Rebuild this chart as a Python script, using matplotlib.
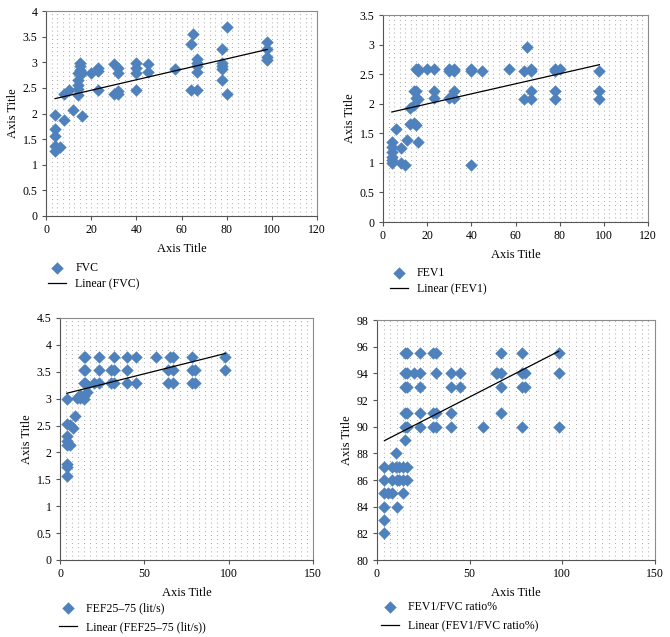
import numpy as np
import matplotlib
matplotlib.use("Agg")
import matplotlib.pyplot as plt
from matplotlib.ticker import MultipleLocator, FormatStrFormatter

plt.rcParams['font.family'] = ['Liberation Serif', 'DejaVu Serif']

# FVC
fvc_x = [4, 4, 4, 4, 4, 6, 8, 8, 10, 12, 14, 14, 14, 14, 14, 15, 15, 15, 16, 16, 20,
         23, 23, 23, 30, 30, 32, 32, 32, 32, 40, 40, 40, 40, 45, 45, 57, 64, 64, 65,
         67, 67, 67, 67, 67, 78, 78, 78, 78, 78, 80, 80, 98, 98, 98, 98]
fvc_y = [1.97, 1.69, 1.56, 1.36, 1.26, 1.34, 1.88, 2.38, 2.45, 2.06, 2.79, 2.66, 2.56,
         2.47, 2.37, 2.99, 2.92, 2.85, 2.79, 1.96, 2.79, 2.89, 2.82, 2.45, 2.97, 2.38,
         2.89, 2.79, 2.44, 2.38, 2.98, 2.89, 2.79, 2.45, 2.97, 2.81, 2.87, 3.36, 2.45,
         3.55, 3.06, 2.99, 2.92, 2.81, 2.45, 3.26, 2.99, 2.92, 2.86, 2.66, 3.68, 2.38,
         3.39, 3.26, 3.10, 3.04]
fvc_trend = [2.29, 3.25]  # linear trend at first / last x

# FEV1
fev1_x = [4, 4, 4, 4, 4, 4, 6, 8, 8, 10, 11, 12, 12, 14, 14, 14, 15, 15, 15, 15,
          16, 16, 16, 16, 20, 23, 23, 23, 30, 30, 30, 32, 32, 32, 32, 40, 40, 40, 45,
          57, 64, 64, 65, 67, 67, 67, 67, 78, 78, 78, 78, 80, 98, 98, 98]
fev1_y = [1.36, 1.27, 1.19, 1.10, 1.05, 1.00, 1.57, 1.25, 1.00, 0.97, 1.38, 1.66, 1.93,
          1.67, 2.21, 1.97, 1.64, 2.10, 2.21, 2.59, 1.36, 2.08, 2.55, 2.59, 2.59, 2.59,
          2.21, 2.10, 2.59, 2.55, 2.10, 2.59, 2.55, 2.21, 2.10, 2.59, 2.55, 0.97, 2.55,
          2.59, 2.55, 2.08, 2.96, 2.59, 2.55, 2.21, 2.08, 2.59, 2.55, 2.21, 2.08, 2.59,
          2.55, 2.21, 2.08]
fev1_trend = [1.86, 2.66]

# FEF25-75
fef_x = [4, 4, 4, 4, 4, 4, 4, 4, 6, 6, 8, 9, 10, 12, 12, 14, 14, 14, 14, 14, 15, 15, 15,
         16, 16, 20, 23, 23, 23, 30, 30, 32, 32, 32, 40, 40, 40, 45, 45, 57, 64, 64, 65,
         67, 67, 67, 78, 78, 78, 80, 80, 98, 98]
fef_y = [2.99, 2.53, 2.30, 2.21, 2.14, 1.78, 1.73, 1.56, 2.14, 2.51, 2.45, 2.67, 3.01,
         3.01, 3.07, 2.99, 3.05, 3.29, 3.54, 3.77, 3.54, 3.29, 3.77, 3.26, 3.13, 3.30,
         3.77, 3.54, 3.30, 3.54, 3.30, 3.77, 3.54, 3.30, 3.77, 3.54, 3.30, 3.77, 3.30,
         3.77, 3.54, 3.30, 3.77, 3.77, 3.54, 3.30, 3.77, 3.54, 3.30, 3.54, 3.30, 3.77, 3.54]
fef_trend = [3.10, 3.84]

# FEV1/FVC ratio%
ratio_x = [4, 4, 4, 4, 4, 4, 6, 8, 8, 8, 10, 10, 11, 11, 12, 12, 14, 14, 14,
           15, 15, 15, 15, 15, 15, 16, 16, 16, 16, 16, 16, 16, 20, 23, 23, 23, 23, 23,
           30, 30, 30, 32, 32, 32, 32, 40, 40, 40, 40, 45, 45, 57, 64, 65,
           67, 67, 67, 67, 78, 78, 78, 78, 80, 80, 98, 98, 98]
ratio_y = [82, 83, 84, 85, 86, 87, 85, 85, 86, 87, 87, 88, 84, 86, 86, 87, 85, 86, 87,
           89, 90, 91, 93, 94, 95.5, 86, 87, 90, 91, 93, 94, 95.5, 94, 90, 91, 93, 94, 95.5,
           90, 91, 95.5, 90, 91, 94, 95.5, 90, 91, 93, 94, 93, 94, 90, 94, 94,
           94, 93, 91, 95.5, 90, 93, 94, 95.5, 93, 94, 90, 94, 95.5]
ratio_trend = [88.95, 95.65]

BLUE = '#4F81BD'


def draw_panel(rect, x, y, trend, name, xmax, xstep, ymin, ymax, ystep, gstep, leg_pos, lspace):
    ax = fig.add_axes(rect)
    ax.set_axisbelow(True)
    ax.scatter(x, y, marker='D', s=40, color=BLUE, linewidths=0, zorder=3, label=name)
    ax.plot([min(x), max(x)], trend, color='black', lw=0.9, zorder=4, label=f'Linear ({name})')

    ax.set_xlim(0, xmax)
    ax.set_ylim(ymin, ymax)
    ax.xaxis.set_major_locator(MultipleLocator(xstep))
    ax.yaxis.set_major_locator(MultipleLocator(ystep))
    ax.yaxis.set_major_formatter(FormatStrFormatter('%g'))
    ax.xaxis.set_minor_locator(MultipleLocator(gstep))
    ax.tick_params(which='minor', length=0)
    ax.tick_params(which='major', length=3, width=0.8, color='#555555', labelsize=8.5, pad=3)
    # dotted pattern background
    ax.grid(which='both', axis='x', color='#9a9a9a', linestyle=(0, (0.7, 3.0)), linewidth=0.8)
    for s in ax.spines.values():
        s.set_color('#8c8c8c')
        s.set_linewidth(0.8)
    ax.spines['left'].set_color('#555555')
    ax.spines['bottom'].set_color('#555555')

    ax.set_xlabel('Axis Title', fontsize=9, labelpad=5)
    ax.set_ylabel('Axis Title', fontsize=9, labelpad=3)
    fig.legend(*ax.get_legend_handles_labels(), loc='upper left', bbox_to_anchor=leg_pos,
               frameon=False, fontsize=8.5, handlelength=1.5, handletextpad=0.8,
               labelspacing=lspace, borderaxespad=0, borderpad=0)
    return ax


fig = plt.figure(figsize=(6.7, 6.37), dpi=100)

draw_panel([46 / 670, 1 - 216 / 637, 271 / 670, 205 / 637], fvc_x, fvc_y, fvc_trend, 'FVC',
           120, 20, 0, 4, 0.5, 2.5, (0.072, 1 - 262 / 637), 0.35)
draw_panel([383 / 670, 1 - 222 / 637, 265 / 670, 207 / 637], fev1_x, fev1_y, fev1_trend, 'FEV1',
           120, 20, 0, 3.5, 0.5, 2.5, (0.582, 1 - 267 / 637), 0.35)
draw_panel([60 / 670, 1 - 560 / 637, 253 / 670, 242 / 637], fef_x, fef_y, fef_trend,
           'FEF25–75 (lit/s)', 150, 50, 0, 4.5, 0.5, 50 / 14, (0.088, 1 - 602 / 637), 0.6)
draw_panel([377 / 670, 1 - 560 / 637, 278 / 670, 240 / 637], ratio_x, ratio_y, ratio_trend,
           'FEV1/FVC ratio%', 150, 50, 80, 98, 2, 50 / 14, (0.569, 1 - 601 / 637), 0.6)

fig.savefig('out.png', dpi=100, facecolor='white')
